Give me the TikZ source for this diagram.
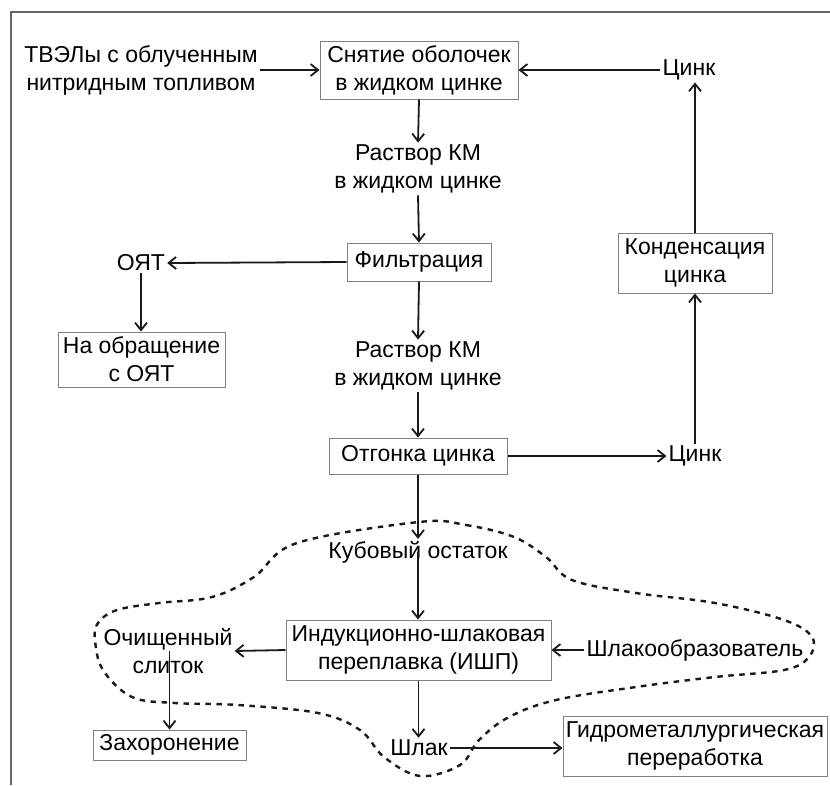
\documentclass[tikz,border=0pt]{standalone}
\usepackage{fontspec}
\setmainfont{Liberation Sans}
\usetikzlibrary{arrows.meta}
\begin{document}
\begin{tikzpicture}[x=1pt,y=-1pt,
  every node/.style={font=\fontsize{23}{28}\selectfont, text=black, align=center},
  box/.style={draw=black!50, line width=1pt, inner sep=0pt, fill=white},
  lbl/.style={inner sep=2pt},
  arr/.style={draw=black!90, line width=1.8pt, -{Straight Barb[length=7.5pt,width=12pt,line width=1.8pt]}},
  frame/.style={draw=black!60, line width=1.4pt},
  blob/.style={draw=black!90, line width=2.4pt, dash pattern=on 5.5pt off 5.5pt}]
\useasboundingbox[fill=white] (0,0) rectangle (830,785);
\draw[frame] (11,785) -- (11,12) -- (830,12);
% dashed outline
\draw[blob] plot[smooth cycle, tension=0.6] coordinates {
 (419,522) (466,525) (514,537) (546,557) (572,580) (636,593) (715,603) (784,620) (812,637) (809,657) (784,670) (715,677) (636,687) (556,700) (509,717) (479,740) (460,765) (420,776) (384,757) (360,730) (318,713) (238,705) (175,703) (132,697) (103,670) (95,640) (98,623) (117,610) (159,603) (212,597) (254,577) (297,543)};
% nodes
\node[box, minimum width=198pt, minimum height=58pt] (b1) at (419,70) {Снятие оболочек\\в жидком цинке};
\node[lbl] (tvel) at (141,70) {ТВЭЛы с облученным\\нитридным топливом};
\node[lbl] (zn1) at (689,70) {Цинк};
\node[lbl] (r1) at (418,169) {Раствор КМ\\в жидком цинке};
\node[box, minimum width=144pt, minimum height=38pt] (filt) at (419,262) {Фильтрация};
\node[lbl] (oyat) at (141,263) {ОЯТ};
\node[box, minimum width=167pt, minimum height=55pt] (obr) at (141.5,359.5) {На обращение\\с ОЯТ};
\node[lbl] (r2) at (418,366) {Раствор КМ\\в жидком цинке};
\node[box, minimum width=178pt, minimum height=36pt] (otg) at (418,456) {Отгонка цинка};
\node[lbl] (zn2) at (695,456) {Цинк};
\node[box, minimum width=154pt, minimum height=60pt] (kond) at (695,263) {Конденсация\\цинка};
\node[lbl] (kub) at (418,552) {Кубовый остаток};
\node[box, minimum width=265pt, minimum height=60pt] (ishp) at (418.5,650) {Индукционно-шлаковая\\переплавка (ИШП)};
\node[lbl] (slit) at (168,651) {Очищенный\\слиток};
\node[lbl] (shob) at (695,650) {Шлакообразователь};
\node[box, minimum width=153pt, minimum height=30pt] (zah) at (169.5,745) {Захоронение};
\node[lbl] (shlak) at (419,748) {Шлак};
\node[box, minimum width=264pt, minimum height=60pt] (gidro) at (695,746) {Гидрометаллургическая\\переработка};
% connectors
\draw[arr] (tvel.east) -- (b1.west);
\draw[arr] (zn1.west) -- (b1.east);
\draw[arr] (kond.north) -- (kond.north |- zn1.south);
\draw[arr] (b1.south) -- (r1.north);
\draw[arr] (r1.south) -- (filt.north);
\draw[arr] (filt.west) -- (oyat.east);
\draw[arr] (oyat.south) -- (oyat.south |- obr.north);
\draw[arr] (filt.south) -- (r2.north);
\draw[arr] (r2.south) -- (otg.north);
\draw[arr] (otg.east) -- (zn2.west);
\draw[arr] (zn2.north) -- (kond.south);
\draw[arr] (otg.south) -- (kub.north);
\draw[arr] (kub.center) -- (kub.center |- ishp.north);
\draw[arr] (ishp.west) -- (slit.east);
\draw[arr] (zah.north |- slit.center) -- (zah.north);
\draw[arr] (shob.west) -- (ishp.east);
\draw[arr] (ishp.south) -- (ishp.south |- shlak.north);
\draw[arr] (shlak.east) -- (shlak.east -| gidro.west);
\end{tikzpicture}
\end{document}
